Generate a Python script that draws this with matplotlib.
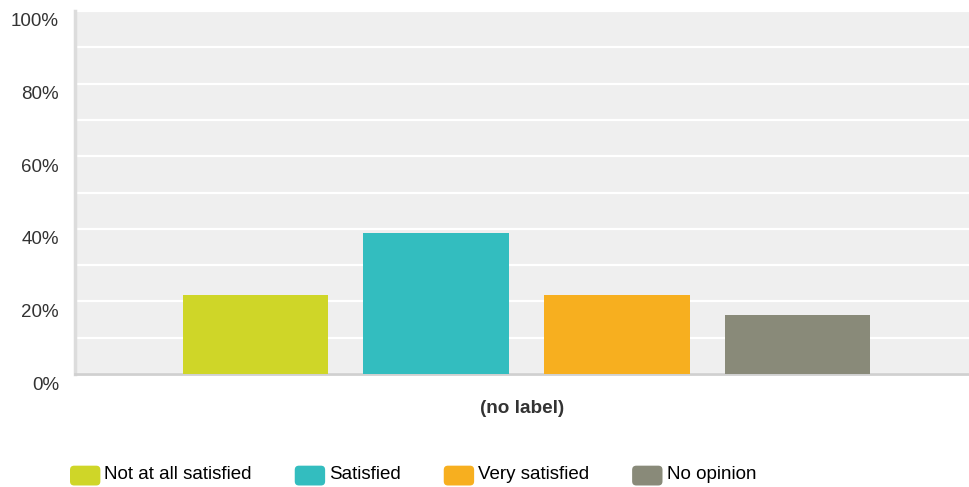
import matplotlib.pyplot as plt
import matplotlib.transforms as mtransforms
from matplotlib.patches import FancyBboxPatch
from matplotlib.legend_handler import HandlerPatch
from matplotlib.ticker import MultipleLocator, PercentFormatter

plt.rcParams['font.family'] = ['Liberation Sans', 'DejaVu Sans']

# survey answers, share of respondents (%)
categories = ["Not at all satisfied", "Satisfied", "Very satisfied", "No opinion"]
values = [21.8, 38.8, 21.8, 16.3]
colors = ["#cfd628", "#33bdbf", "#f7af1f", "#898a79"]
xlabel = "(no label)"

W, H = 969, 487
fig = plt.figure(figsize=(W / 100, H / 100), dpi=100)
ax = fig.add_axes([75 / W, (H - 374) / H, 894 / W, 363 / H])
ax.set_facecolor("#efefef")

xs = range(len(categories))
bars = ax.bar(xs, values, width=0.807, color=colors, zorder=3)

ax.set_xlim(-1.0, 3.95)
ax.set_ylim(0, 100)
ax.yaxis.set_major_locator(MultipleLocator(20))
ax.yaxis.set_minor_locator(MultipleLocator(10))
ax.yaxis.set_major_formatter(PercentFormatter(decimals=0))
ax.grid(True, axis="y", which="both", color="white", linewidth=1.6, zorder=1)
ax.set_axisbelow(True)
ax.set_xticks([])
ax.tick_params(axis="y", which="both", length=0, pad=11.5, labelsize=13.5, labelcolor="#333333")

# labels sit a little below their gridline
off = mtransforms.ScaledTranslation(0, -9 / 100, fig.dpi_scale_trans)
for lab in ax.get_yticklabels():
    lab.set_transform(lab.get_transform() + off)

for s in ["top", "right"]:
    ax.spines[s].set_visible(False)
ax.spines["left"].set_color("#dcdcdc")
ax.spines["left"].set_linewidth(2.5)
ax.spines["bottom"].set_color("#d0d0d0")
ax.spines["bottom"].set_linewidth(2)

ax.set_xlabel(xlabel, fontsize=13.6, fontweight="bold", color="#333333", labelpad=19)


def rounded(legend, orig_handle, xdescent, ydescent, width, height, fontsize):
    return FancyBboxPatch((-xdescent, -ydescent - 2), width, height,
                          boxstyle="round,pad=0,rounding_size=3")


fig.legend(bars, categories, loc="center left",
           bbox_to_anchor=(70 / W, 1 - 473 / H), ncol=4, frameon=False,
           fontsize=13.5, handlelength=1.62, handleheight=1.25,
           handletextpad=0.22, columnspacing=2.28, borderpad=0, borderaxespad=0,
           handler_map={bars[0].__class__: HandlerPatch(patch_func=rounded)})

fig.savefig("out.png", dpi=100)
